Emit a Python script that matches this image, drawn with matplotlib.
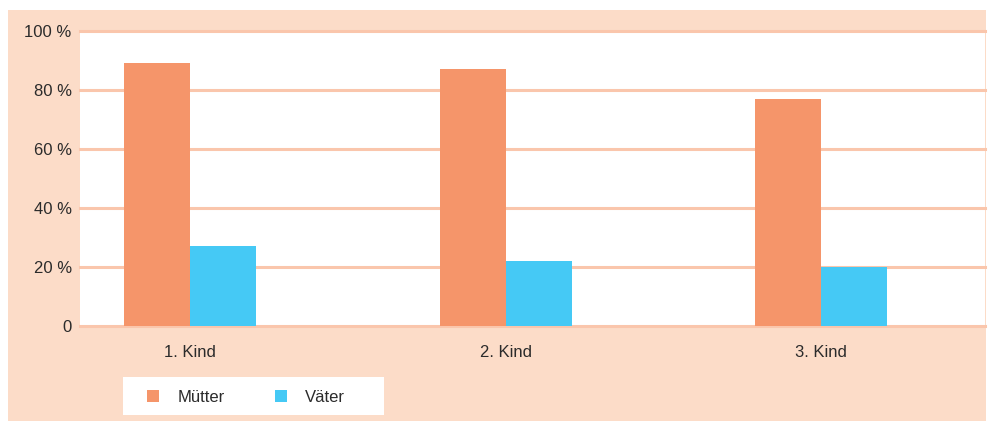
import matplotlib.pyplot as plt
from matplotlib.patches import Rectangle

plt.rcParams['font.family'] = ['Liberation Sans', 'DejaVu Sans']

categories = ["1. Kind", "2. Kind", "3. Kind"]
muetter = [89, 87, 77]
vaeter = [27, 22, 20]
yticks = [0, 20, 40, 60, 80, 100]
ytick_labels = ["0", "20 %", "40 %", "60 %", "80 %", "100 %"]

c_mutter = "#F5956A"
c_vater = "#45C9F5"
c_bg = "#FCDCC8"
c_grid = "#FAC6AC"
c_text = "#2b2b2b"

W, H = 996, 423
fig = plt.figure(figsize=(W / 100, H / 100), dpi=100)
fig.patch.set_facecolor("white")

# peach panel behind everything
fig.patches.append(Rectangle((8 / W, 1 - 421 / H), (986 - 8) / W, (421 - 10) / H,
                             transform=fig.transFigure, facecolor=c_bg,
                             edgecolor="none", zorder=-5))
# white legend box
fig.patches.append(Rectangle((123 / W, 1 - 415 / H), (384 - 123) / W, (415 - 377) / H,
                             transform=fig.transFigure, facecolor="white",
                             edgecolor="none", zorder=-4))

# plot area in pixel coords: x 80..985, y 31..326
ax = fig.add_axes([80 / W, 1 - 326 / H, (985 - 80) / W, (326 - 31) / H])
ax.set_facecolor("white")

x = range(len(categories))
w = 0.209
b1 = ax.bar([i - w / 2 for i in x], muetter, width=w, color=c_mutter, label="Mütter", zorder=3)
b2 = ax.bar([i + w / 2 for i in x], vaeter, width=w, color=c_vater, label="Väter", zorder=3)

ax.set_xlim(-0.349, 2.519)
ax.set_ylim(0, 100)
ax.set_yticks(yticks)
ax.set_yticklabels(ytick_labels, fontsize=12, color=c_text)
ax.set_xticks(list(x))
ax.set_xticklabels(categories, fontsize=12, color=c_text)
ax.tick_params(length=0)
ax.tick_params(axis="y", pad=6)
ax.tick_params(axis="x", pad=14)
for s in ax.spines.values():
    s.set_visible(False)
for t in yticks:
    ax.axhline(t, color=c_grid, linewidth=2.2, zorder=2, clip_on=False)

leg = fig.legend(handles=[b1, b2], loc="center left",
                 bbox_to_anchor=(147 / W, 1 - 397 / H),
                 ncol=2, frameon=False, fontsize=12,
                 handlelength=0.72, handleheight=0.72,
                 handletextpad=1.1, columnspacing=3.0, borderpad=0,
                 labelcolor=c_text, borderaxespad=0)

fig.savefig("out.png", dpi=100)
